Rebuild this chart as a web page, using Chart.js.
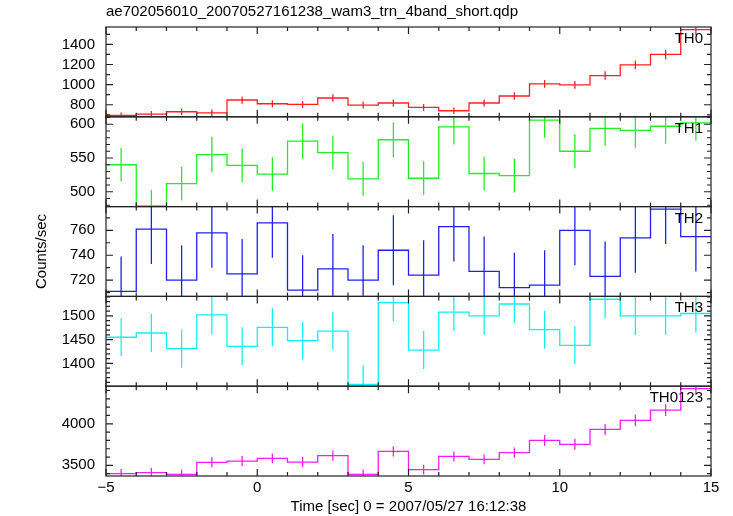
<!DOCTYPE html>
<html>
<head>
<meta charset="utf-8">
<script src="https://cdn.jsdelivr.net/npm/chart.js@4/dist/chart.umd.min.js"></script>
<style>
  body { margin: 0; background: #fff; }
  #wrap { width: 733px; height: 516px; }
</style>
</head>
<body>
<div id="wrap"><canvas id="lc" width="733" height="516"></canvas></div>
<script>
// bin left edges (1 s bins), time in sec from trigger
const binStart = [-5, -4, -3, -2, -1, 0, 1, 2, 3, 4, 5, 6, 7, 8, 9, 10, 11, 12, 13, 14];
const binWidth = 1;

const panelNames = ["TH0", "TH1", "TH2", "TH3", "TH0123"];
const panelColors = ["#ff2020", "#22ee22", "#2020ee", "#10f0f0", "#f020f0"];

// counts/sec per band
const th0 = [693, 707, 730, 720, 847, 810, 803, 867, 797, 817, 773, 740, 817, 887, 1007, 997, 1090, 1197, 1300, 1547];
const th0Err = [30, 31, 32, 32, 36, 35, 35, 37, 35, 36, 34, 33, 35, 37, 39, 39, 42, 44, 47, 50];
const th1 = [540, 479, 512, 555, 539, 526, 575, 558, 519, 577, 520, 596, 527, 524, 606, 560, 594, 591, 597, 602];
const th1Err = [25, 24, 25, 26, 25, 25, 26, 25, 25, 26, 25, 26, 25, 25, 26, 25, 26, 26, 26, 26];
const th2 = [711, 761, 720, 758, 725, 766, 712, 729, 720, 744, 724, 763, 727, 714, 716, 760, 723, 754, 777, 755];
const th2Err = [28, 28, 28, 28, 28, 28, 28, 28, 28, 28, 28, 28, 28, 28, 28, 28, 28, 28, 28, 28];
const th3 = [1455, 1464, 1431, 1502, 1436, 1476, 1448, 1468, 1356, 1528, 1428, 1508, 1500, 1525, 1471, 1438, 1535, 1500, 1500, 1505];
const th3Err = [40, 40, 40, 40, 40, 40, 40, 40, 40, 40, 40, 40, 40, 40, 40, 40, 40, 40, 40, 40];
const th0123 = [3400, 3412, 3392, 3536, 3552, 3584, 3540, 3616, 3392, 3668, 3448, 3608, 3572, 3652, 3800, 3752, 3932, 4040, 4164, 4424];
const th0123Err = [55, 55, 55, 60, 60, 60, 60, 62, 55, 62, 58, 60, 60, 62, 64, 64, 66, 68, 70, 72];

// axis ranges, labelled ticks and tick steps (major / minor)
const yMin = [680, 478, 707, 1352, 3372];
const yMax = [1573, 611, 779, 1541, 4452];
const yTicks = [[800, 1000, 1200, 1400], [500, 550, 600], [720, 740, 760], [1400, 1450, 1500], [3500, 4000]];
const yMajor = [200, 50, 20, 50, 500];
const yMinor = [100, 10, 10, 10, 100];
const xTicks = [-5, 0, 5, 10, 15];

const series = [th0, th1, th2, th3, th0123];
const errors = [th0Err, th1Err, th2Err, th3Err, th0123Err];

const FONT = "'Liberation Sans', Arial, sans-serif";

function stepData(vals) {
  let pts = binStart.map((x, i) => ({ x: x, y: vals[i] }));
  pts.push({ x: binStart[binStart.length - 1] + binWidth, y: vals[vals.length - 1] });
  return pts;
}
function errData(vals, errs) {
  let pts = [];
  binStart.forEach((x, i) => {
    let c = x + binWidth / 2;
    pts.push({ x: c, y: vals[i] - errs[i] });
    pts.push({ x: c, y: vals[i] + errs[i] });
    pts.push({ x: c, y: null });
  });
  return pts;
}

let datasets = [];
let scales = {
  x: {
    type: "linear", position: "bottom", min: -5, max: 15,
    grid: { display: false, drawTicks: false }, border: { display: false },
    afterBuildTicks: (s) => { s.ticks = xTicks.map(v => ({ value: v })); },
    ticks: {
      padding: 3, autoSkip: false, maxRotation: 0, color: "#000",
      font: { family: FONT, size: 15 },
      callback: (v) => String(v).replace("-", "\u2212")
    },
    title: {
      display: true, text: "Time [sec] 0 = 2007/05/27 16:12:38", color: "#000",
      font: { family: FONT, size: 15 }, padding: { top: 0, bottom: 0 }
    },
    afterFit: (s) => { s.height = 40; }
  }
};

// stacked axes are laid out bottom-up in definition order, so add them reversed
for (let p = series.length - 1; p >= 0; p--) {
  scales["y" + p] = {
    type: "linear", position: "left", stack: "panels", stackWeight: 1, offset: false,
    min: yMin[p], max: yMax[p],
    grid: { display: false, drawTicks: false }, border: { display: false },
    afterBuildTicks: (s) => { s.ticks = yTicks[p].map(v => ({ value: v })); },
    ticks: {
      padding: 11, color: "#000", autoSkip: false,
      font: { family: FONT, size: 15 },
      callback: (v) => String(v)
    },
    afterFit: (s) => { s.width = 106; }
  };
}

series.forEach((vals, p) => {
  let id = "y" + p;
  datasets.push({
    label: panelNames[p], data: stepData(vals), yAxisID: id,
    stepped: true, borderColor: panelColors[p], borderWidth: 1.3,
    pointRadius: 0, fill: false
  });
  datasets.push({
    label: panelNames[p] + " err", data: errData(vals, errors[p]), yAxisID: id,
    borderColor: panelColors[p], borderWidth: 1.3, pointRadius: 0,
    fill: false, spanGaps: false
  });
});

// clip each dataset to its own panel, then draw qdp style frames + inward ticks
const qdpPanels = {
  id: "qdpPanels",
  beforeDatasetDraw(chart, args) {
    let ys = chart.scales[args.meta.yAxisID];
    let a = chart.chartArea;
    let ctx = chart.ctx;
    ctx.save();
    ctx.beginPath();
    ctx.rect(a.left, ys.top, a.right - a.left, ys.bottom - ys.top);
    ctx.clip();
  },
  afterDatasetDraw(chart) {
    chart.ctx.restore();
  },
  afterDatasetsDraw(chart) {
    let ctx = chart.ctx;
    let a = chart.chartArea;
    let xs = chart.scales.x;
    ctx.save();
    ctx.strokeStyle = "#222";
    ctx.lineWidth = 1.2;
    series.forEach((vals, p) => {
      let ys = chart.scales["y" + p];
      let top = ys.top, bot = ys.bottom;
      ctx.strokeRect(a.left, top, a.right - a.left, bot - top);
      ctx.beginPath();
      // y ticks both sides
      let start = Math.ceil(yMin[p] / yMinor[p]) * yMinor[p];
      for (let v = start; v <= yMax[p]; v += yMinor[p]) {
        let py = ys.getPixelForValue(v);
        let len = (v % yMajor[p] === 0) ? 7 : 4;
        ctx.moveTo(a.left, py); ctx.lineTo(a.left + len, py);
        ctx.moveTo(a.right, py); ctx.lineTo(a.right - len, py);
      }
      // x ticks on top and bottom of each panel
      for (let t = -5; t <= 15; t++) {
        let px = xs.getPixelForValue(t);
        let len = (t % 5 === 0) ? 7 : 4;
        ctx.moveTo(px, top); ctx.lineTo(px, top + len);
        ctx.moveTo(px, bot); ctx.lineTo(px, bot - len);
      }
      ctx.stroke();
    });
    // panel names
    ctx.fillStyle = "#000";
    ctx.font = "15px " + FONT;
    ctx.textAlign = "right";
    ctx.textBaseline = "alphabetic";
    panelNames.forEach((n, p) => {
      let ys = chart.scales["y" + p];
      ctx.fillText(n, a.right - 8, ys.top + 16);
    });
    // y title
    ctx.translate(42, (a.top + a.bottom) / 2);
    ctx.rotate(-Math.PI / 2);
    ctx.textAlign = "center";
    ctx.textBaseline = "middle";
    ctx.fillText("Counts/sec", 0, 0);
    ctx.restore();
  }
};

new Chart(document.getElementById("lc"), {
  type: "line",
  data: { datasets: datasets },
  options: {
    responsive: false,
    animation: false,
    layout: { padding: { left: 0, right: 22, top: 0, bottom: 0 } },
    scales: scales,
    plugins: {
      legend: { display: false },
      tooltip: { enabled: false },
      title: {
        display: true, text: "ae702056010_20070527161238_wam3_trn_4band_short.qdp",
        align: "start", fullSize: false, color: "#000",
        font: { family: FONT, size: 15, weight: "normal" },
        padding: { top: 3, bottom: 6 }
      }
    }
  },
  plugins: [qdpPanels]
});
</script>
</body>
</html>
